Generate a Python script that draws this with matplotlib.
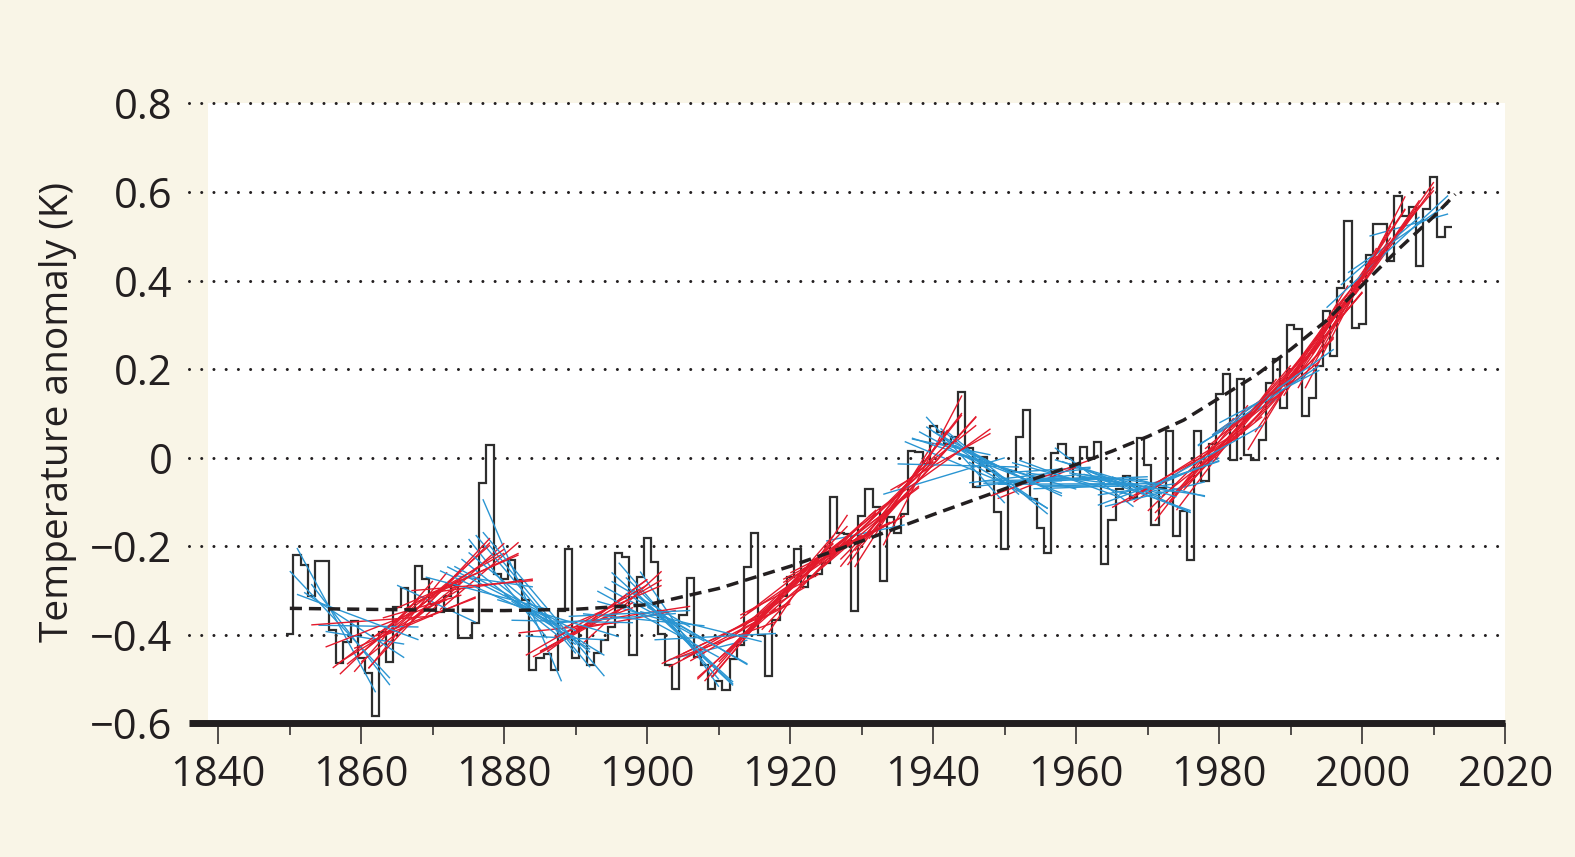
import numpy as np
import matplotlib
matplotlib.use("Agg")
import matplotlib.pyplot as plt
from matplotlib.patches import Rectangle

# ---------------- data ----------------
years = np.arange(1850, 2013)
anomaly = [
    -0.398, -0.219, -0.243, -0.311, -0.234, -0.232, -0.390, -0.464, -0.416, -0.369,  # 1850s
    -0.452, -0.487, -0.582, -0.393, -0.461, -0.337, -0.294, -0.345, -0.245, -0.273,  # 1860s
    -0.330, -0.348, -0.311, -0.288, -0.406, -0.406, -0.373, -0.056, 0.028, -0.262,   # 1870s
    -0.273, -0.230, -0.277, -0.322, -0.479, -0.453, -0.442, -0.479, -0.345, -0.206,  # 1880s
    -0.453, -0.382, -0.468, -0.440, -0.411, -0.381, -0.216, -0.224, -0.445, -0.270,  # 1890s
    -0.182, -0.236, -0.397, -0.467, -0.522, -0.355, -0.272, -0.450, -0.467, -0.521,  # 1900s
    -0.505, -0.524, -0.455, -0.422, -0.246, -0.170, -0.401, -0.493, -0.367, -0.311,  # 1910s
    -0.270, -0.206, -0.292, -0.268, -0.262, -0.238, -0.088, -0.169, -0.172, -0.345,  # 1920s
    -0.131, -0.071, -0.112, -0.279, -0.134, -0.170, -0.127, 0.016, 0.012, -0.015,    # 1930s
    0.072, 0.059, 0.030, 0.046, 0.149, 0.021, -0.066, 0.001, -0.030, -0.122,         # 1940s
    -0.205, -0.030, 0.046, 0.108, -0.092, -0.158, -0.216, 0.011, 0.031, 0.000,       # 1950s
    -0.049, 0.025, 0.000, 0.036, -0.240, -0.140, -0.070, -0.041, -0.090, 0.044,      # 1960s
    -0.016, -0.152, -0.068, 0.060, -0.176, -0.120, -0.230, 0.060, -0.053, 0.032,     # 1970s
    0.143, 0.190, -0.006, 0.177, 0.006, -0.006, 0.040, 0.168, 0.224, 0.113,          # 1980s
    0.299, 0.290, 0.094, 0.136, 0.207, 0.332, 0.230, 0.384, 0.534, 0.292,           # 1990s
    0.302, 0.458, 0.527, 0.527, 0.445, 0.592, 0.545, 0.566, 0.432, 0.562,           # 2000s
    0.635, 0.498, 0.520,                                                             # 2010s
]

# long-term smooth curve (dashed)
curve_years = [1850, 1860, 1870, 1880, 1890, 1900, 1910, 1920, 1930, 1940, 1950,
               1960, 1965, 1970, 1975, 1980, 1985, 1990, 1995, 2000, 2005, 2010, 2013]
curve_values = [-0.340, -0.342, -0.344, -0.345, -0.342, -0.332, -0.295, -0.245, -0.188,
                -0.128, -0.070, -0.015, 0.015, 0.048, 0.085, 0.135, 0.185, 0.245, 0.310,
                0.390, 0.470, 0.545, 0.595]

x_ticks = [1840, 1860, 1880, 1900, 1920, 1940, 1960, 1980, 2000, 2020]
x_minor = [1850, 1870, 1890, 1910, 1930, 1950, 1970, 1990, 2010]
y_ticks = [-0.6, -0.4, -0.2, 0.0, 0.2, 0.4, 0.6, 0.8]
y_tick_labels = ["\u22120.6", "\u22120.4", "\u22120.2", "0", "0.2", "0.4", "0.6", "0.8"]
grid_levels = [-0.4, -0.2, 0.0, 0.2, 0.4, 0.6, 0.8]
ylabel = "Temperature anomaly (K)"

# windows (in years) for the short-term trend lines
trend_lengths = [12, 15, 18]
trend_step = 2

# ---------------- styling ----------------
BG = "#f9f5e7"
INK = "#231f20"
RED = "#e31a2c"
BLUE = "#2a95d2"

plt.rcParams["font.family"] = ["Open Sans", "DejaVu Sans"]

fig = plt.figure(figsize=(15.75, 8.57), dpi=100, facecolor=BG)
ax = fig.add_axes([0.12, 0.15578, 0.83575, 0.72345])
ax.set_facecolor("none")
ax.set_xlim(1835.9, 2020)
ax.set_ylim(-0.6, 0.8)

# white plotting panel
ax.add_patch(Rectangle((1838.6, -0.6), 2020 - 1838.6, 1.4, facecolor="white",
                       edgecolor="none", zorder=0))

# dotted horizontal grid
for g in grid_levels:
    ax.axhline(g, color=INK, lw=2.2, linestyle=(0, (0.001, 4.0)),
               dash_capstyle="round", zorder=1, clip_on=False)

# annual staircase
a = np.asarray(anomaly, dtype=float)
edges = np.append(years - 0.5, years[-1] + 0.5)
ax.stairs(a, edges, baseline=None, color="#2e2e2e", lw=1.6, zorder=2)

# short-term trend lines
cy = np.asarray(curve_years, dtype=float)
cv = np.asarray(curve_values, dtype=float)
cslope = np.gradient(cv, cy)
t = years.astype(float)
n = len(years)
for L in trend_lengths:
    for s in range(n - L, -1, -trend_step):
        xs = t[s:s + L]
        ys = a[s:s + L]
        k, b = np.polyfit(xs, ys, 1)
        ref = np.interp(xs.mean(), cy, cslope)
        col = RED if k > ref else BLUE
        ax.plot([xs[0], xs[-1]], [k * xs[0] + b, k * xs[-1] + b], color=col,
                lw=1.0, zorder=3, solid_capstyle="butt")

# long-term dashed curve
ax.plot(cy, cv, color=INK, lw=2.5, linestyle=(0, (3.5, 2.0)), zorder=5)

# axes decorations
for side in ("top", "right", "left"):
    ax.spines[side].set_visible(False)
ax.spines["bottom"].set_linewidth(5)
ax.spines["bottom"].set_color(INK)
ax.spines["bottom"].set_capstyle("butt")

ax.set_xticks(x_ticks)
ax.set_xticks(x_minor, minor=True)
ax.set_xticklabels([str(v) for v in x_ticks])
ax.set_yticks(y_ticks)
ax.set_yticklabels(y_tick_labels)
ax.tick_params(axis="x", which="major", length=14.8, width=1.1, color=INK,
               labelsize=30, labelcolor=INK, pad=7)
ax.tick_params(axis="x", which="minor", length=8.8, width=1.1, color=INK)
ax.tick_params(axis="y", which="both", length=0, labelsize=30, labelcolor=INK, pad=12)

fig.text(58 / 1575, 1 - 412 / 857, ylabel, rotation=90, ha="center", va="center",
         fontsize=28, color=INK)

fig.savefig("out.png", dpi=100, facecolor=BG)
